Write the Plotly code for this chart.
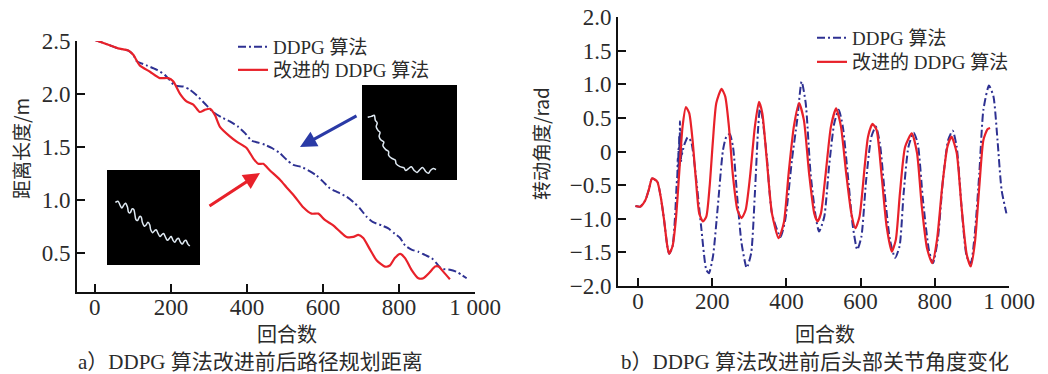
import plotly.graph_objects as go

# ---------------- data: panel a (path planning distance) ----------------
dist_improved_x = [0, 39, 61, 88, 101, 118, 145, 171, 193, 206, 224, 241, 259, 276, 289, 303, 316, 329,
                   355, 373, 399, 417, 430, 443, 460, 487, 504, 526, 548, 570, 588, 605, 627, 645, 662,
                   680, 693, 706, 724, 741, 763, 776, 789, 803, 816, 833, 851, 864, 882, 895, 904, 917, 934]
dist_improved_y = [2.51, 2.46, 2.43, 2.41, 2.37, 2.27, 2.21, 2.15, 2.15, 2.12, 2.00, 1.93, 1.90, 1.83, 1.85,
                   1.86, 1.80, 1.69, 1.60, 1.55, 1.49, 1.39, 1.34, 1.34, 1.28, 1.19, 1.12, 1.03, 0.93, 0.87,
                   0.87, 0.81, 0.76, 0.70, 0.65, 0.65, 0.67, 0.64, 0.53, 0.43, 0.37, 0.38, 0.45, 0.49, 0.45,
                   0.34, 0.26, 0.26, 0.32, 0.37, 0.37, 0.32, 0.25]
dist_ddpg_x = [0, 39, 61, 88, 101, 110, 136, 162, 184, 197, 210, 232, 250, 267, 289, 311, 333, 355, 377,
               395, 412, 430, 447, 465, 487, 504, 522, 544, 566, 583, 601, 618, 640, 662, 680, 697, 715,
               732, 754, 772, 789, 803, 816, 833, 851, 868, 886, 899, 912, 934, 952, 965, 978]
dist_ddpg_y = [2.51, 2.46, 2.43, 2.41, 2.37, 2.31, 2.27, 2.23, 2.18, 2.13, 2.08, 2.07, 2.04, 1.99, 1.91,
               1.83, 1.78, 1.74, 1.69, 1.63, 1.56, 1.54, 1.52, 1.49, 1.44, 1.38, 1.33, 1.31, 1.27, 1.23,
               1.17, 1.11, 1.07, 1.03, 0.98, 0.92, 0.84, 0.79, 0.76, 0.73, 0.68, 0.64, 0.57, 0.53, 0.51,
               0.48, 0.45, 0.40, 0.35, 0.34, 0.32, 0.29, 0.26]

# ---------------- data: panel b (head joint angle) ----------------
ang_improved_x = [-7, 6, 20, 29, 38, 52, 61, 70, 79, 84, 93, 102, 111, 120, 129, 138, 147, 156, 165, 175,
                  184, 193, 202, 211, 225, 235, 245, 256, 268, 279, 290, 302, 315, 326, 335, 347, 361, 379,
                  393, 406, 420, 434, 447, 461, 475, 484, 493, 506, 520, 534, 547, 561, 575, 586, 597, 611,
                  620, 632, 643, 656, 670, 684, 695, 706, 720, 738, 752, 765, 779, 793, 806, 820, 834, 845,
                  859, 872, 886, 897, 908, 920, 931, 942, 949]
ang_improved_y = [-0.81, -0.82, -0.72, -0.57, -0.40, -0.45, -0.67, -1.01, -1.41, -1.52, -1.41, -1.01, -0.32,
                  0.37, 0.66, 0.57, 0.17, -0.42, -0.92, -1.04, -0.97, -0.52, 0.17, 0.72, 0.93, 0.82, 0.37,
                  -0.37, -0.87, -0.99, -0.87, -0.37, 0.37, 0.74, 0.57, -0.12, -0.92, -1.29, -1.06, -0.32,
                  0.37, 0.72, 0.47, -0.32, -0.92, -1.04, -0.92, -0.32, 0.37, 0.64, 0.37, -0.32, -0.92,
                  -1.14, -0.97, -0.22, 0.22, 0.41, 0.32, -0.32, -1.11, -1.49, -1.31, -0.62, 0.07, 0.27,
                  -0.02, -0.82, -1.44, -1.66, -1.31, -0.52, 0.07, 0.22, -0.02, -0.82, -1.53, -1.71, -1.36,
                  -0.52, 0.17, 0.33, 0.35]
ang_ddpg_x = [-7, 6, 20, 29, 38, 52, 61, 70, 79, 84, 93, 100, 104, 106, 107, 108, 109, 110, 111, 112, 113,
              114, 115, 116, 117, 118, 120, 126, 134, 143, 156, 170, 184, 191, 202, 215, 229, 238, 247, 256,
              268, 279, 293, 305, 315, 324, 329, 335, 347, 361, 384, 397, 415, 429, 441, 452, 465, 479, 488,
              502, 515, 529, 541, 552, 565, 579, 591, 602, 615, 629, 641, 652, 665, 679, 693, 705, 716, 729,
              743, 754, 768, 784, 795, 808, 822, 836, 848, 859, 872, 886, 897, 908, 920, 931, 946, 958, 969,
              980, 993]
ang_ddpg_y = [-0.81, -0.82, -0.72, -0.57, -0.40, -0.45, -0.67, -1.01, -1.41, -1.52, -1.41, -0.95, -0.50,
              -0.35, -0.10, -0.45, 0.05, -0.30, 0.25, -0.20, 0.45, -0.05, 0.30, -0.15, 0.10, -0.05, 0.00,
              0.12, 0.21, 0.15, -0.37, -1.11, -1.76, -1.81, -1.56, -0.82, 0.02, 0.22, 0.26, 0.07, -0.72,
              -1.36, -1.73, -1.51, -0.62, 0.37, 0.67, 0.51, -0.07, -0.92, -1.27, -1.01, -0.12, 0.47, 1.04,
              0.72, -0.32, -0.97, -1.19, -0.97, -0.22, 0.42, 0.62, 0.37, -0.32, -1.11, -1.46, -1.27, -0.42,
              0.22, 0.37, 0.12, -0.62, -1.31, -1.58, -1.41, -0.62, 0.07, 0.28, 0.12, -0.72, -1.46, -1.66,
              -1.31, -0.42, 0.17, 0.31, 0.07, -0.82, -1.56, -1.66, -1.21, -0.32, 0.62, 0.98, 0.82, 0.17,
              -0.57, -0.92]

# ---------------- inset paths (trajectory snapshots, fractions of the inset box) ----------------
inset_improved_x = [0.09, 0.12, 0.14, 0.16, 0.18, 0.20, 0.22, 0.23, 0.25, 0.27, 0.29, 0.30, 0.31, 0.33,
                    0.35, 0.37, 0.38, 0.40, 0.42, 0.44, 0.46, 0.47, 0.49, 0.51, 0.53, 0.55, 0.57, 0.59,
                    0.61, 0.63, 0.65, 0.67, 0.69, 0.71, 0.73, 0.75, 0.77, 0.79, 0.81, 0.83, 0.85, 0.87, 0.89]
inset_improved_y = [0.66, 0.67, 0.63, 0.60, 0.63, 0.65, 0.61, 0.56, 0.55, 0.59, 0.58, 0.53, 0.48, 0.47,
                    0.51, 0.50, 0.45, 0.41, 0.42, 0.45, 0.42, 0.37, 0.34, 0.36, 0.37, 0.33, 0.30, 0.32,
                    0.33, 0.29, 0.26, 0.28, 0.30, 0.26, 0.24, 0.27, 0.28, 0.24, 0.22, 0.25, 0.26, 0.22, 0.20]
inset_ddpg_x = [0.06, 0.10, 0.13, 0.14, 0.16, 0.15, 0.17, 0.19, 0.18, 0.20, 0.23, 0.22, 0.25, 0.28, 0.28,
                0.31, 0.35, 0.36, 0.40, 0.44, 0.46, 0.49, 0.52, 0.55, 0.58, 0.61, 0.64, 0.67, 0.70, 0.72,
                0.75, 0.78]
inset_ddpg_y = [0.66, 0.67, 0.68, 0.63, 0.60, 0.56, 0.52, 0.50, 0.46, 0.42, 0.40, 0.36, 0.32, 0.30, 0.26,
                0.23, 0.21, 0.17, 0.14, 0.13, 0.10, 0.12, 0.14, 0.10, 0.08, 0.11, 0.13, 0.09, 0.07, 0.10,
                0.12, 0.11]

# ---------------- labels ----------------
x_tickvals = [0, 200, 400, 600, 800, 1000]
x_ticktext = ["0", "200", "400", "600", "800", "1 000"]
a_tickvals = [0.5, 1.0, 1.5, 2.0, 2.5]
a_ticktext = ["0.5", "1.0", "1.5", "2.0", "2.5"]
b_tickvals = [-2.0, -1.5, -1.0, -0.5, 0, 0.5, 1.0, 1.5, 2.0]
b_ticktext = ["\u22122.0", "\u22121.5", "\u22121.0", "\u22120.5", "0", "0.5", "1.0", "1.5", "2.0"]
name_ddpg = "DDPG 算法"
name_improved = "改进的 DDPG 算法"

BLUE = "#2e3192"
RED = "#e8212a"
TXT = "#2b2b2b"
INK = "#111111"
SERIF = "Liberation Serif, Noto Sans CJK SC, serif"
W, H = 1048, 374
OFF = 8  # page body margin offset of the plot div
DASH = "8px,3px,2px,3px"
TICKLEN = 8

# axis boxes in screen pixels: left, top, right, bottom ; data ranges
A_BOX, A_XR, A_YR = (77, 41, 475, 292), (-47, 1000), (0.13, 2.5)
B_BOX, B_XR, B_YR = (618, 17, 1009, 286), (-54, 1000), (-2.0, 2.0)


def px2paper_x(p):
    return (p - OFF) / W


def px2paper_y(p):
    return 1 - (p - OFF) / H


fig = go.Figure()

# panel a
fig.add_trace(go.Scatter(x=dist_ddpg_x, y=dist_ddpg_y, name=name_ddpg, mode="lines",
                         line=dict(color=BLUE, width=2, dash=DASH, shape="spline", smoothing=0.6),
                         xaxis="x", yaxis="y", legend="legend"))
fig.add_trace(go.Scatter(x=dist_improved_x, y=dist_improved_y, name=name_improved, mode="lines",
                         line=dict(color=RED, width=2.2, shape="spline", smoothing=0.6),
                         xaxis="x", yaxis="y", legend="legend3"))
# panel b
fig.add_trace(go.Scatter(x=ang_ddpg_x, y=ang_ddpg_y, name=name_ddpg, mode="lines",
                         line=dict(color=BLUE, width=2, dash=DASH, shape="spline", smoothing=0.6),
                         xaxis="x2", yaxis="y2", legend="legend2"))
fig.add_trace(go.Scatter(x=ang_improved_x, y=ang_improved_y, name=name_improved, mode="lines",
                         line=dict(color=RED, width=2.2, shape="spline", smoothing=0.6),
                         xaxis="x2", yaxis="y2", legend="legend4"))

axis_common = dict(showline=True, linecolor=INK, linewidth=2, ticks="inside", ticklen=TICKLEN,
                   tickwidth=2, tickcolor=INK, showgrid=False, zeroline=False, automargin=False,
                   ticklabeloverflow="allow", layer="above traces",
                   tickfont=dict(family=SERIF, size=23, color=TXT))


def legend_at(text_left_px, row_center_px):
    return dict(x=px2paper_x(text_left_px - 42), y=px2paper_y(row_center_px - 18),
                xanchor="left", yanchor="top", bgcolor="rgba(0,0,0,0)", itemwidth=30,
                borderwidth=0, font=dict(family=SERIF, size=19, color=TXT))


fig.update_layout(
    template="none",
    width=W, height=H, margin=dict(l=0, r=0, t=0, b=0, autoexpand=False),
    paper_bgcolor="white", plot_bgcolor="white",
    xaxis=dict(domain=[px2paper_x(A_BOX[0]), px2paper_x(A_BOX[2])], range=list(A_XR), anchor="y",
               tickvals=x_tickvals, ticktext=x_ticktext, ticklabelstandoff=-7, **axis_common),
    yaxis=dict(domain=[px2paper_y(A_BOX[3]), px2paper_y(A_BOX[1])], range=list(A_YR), anchor="x",
               tickvals=a_tickvals, ticktext=a_ticktext, **axis_common),
    xaxis2=dict(domain=[px2paper_x(B_BOX[0]), px2paper_x(B_BOX[2])], range=list(B_XR), anchor="y2",
                tickvals=x_tickvals, ticktext=x_ticktext, ticklabelstandoff=-7, **axis_common),
    yaxis2=dict(domain=[px2paper_y(B_BOX[3]), px2paper_y(B_BOX[1])], range=list(B_YR), anchor="x2",
                tickvals=b_tickvals, ticktext=b_ticktext, **axis_common),
    legend=legend_at(275, 46),
    legend3=legend_at(275, 69),
    legend2=legend_at(854, 37),
    legend4=legend_at(854, 61),
    showlegend=True,
)


# ---- insets: black boxes with the trajectory snapshots (smooth paths) ----
def inset_path(xs, ys, box):
    x0, y0, x1, y1 = box  # screen px: left, top, right, bottom
    pts = [(px2paper_x(x0 + fx * (x1 - x0)), px2paper_y(y1 - fy * (y1 - y0))) for fx, fy in zip(xs, ys)]
    d = "M{:.5f},{:.5f}".format(*pts[0])
    for i in range(len(pts) - 1):
        p0 = pts[max(i - 1, 0)]
        p1 = pts[i]
        p2 = pts[i + 1]
        p3 = pts[min(i + 2, len(pts) - 1)]
        c1 = (p1[0] + (p2[0] - p0[0]) / 6, p1[1] + (p2[1] - p0[1]) / 6)
        c2 = (p2[0] - (p3[0] - p1[0]) / 6, p2[1] - (p3[1] - p1[1]) / 6)
        d += " C{:.5f},{:.5f} {:.5f},{:.5f} {:.5f},{:.5f}".format(*c1, *c2, *p2)
    return d


insets = [((107, 170, 200, 265), inset_improved_x, inset_improved_y),
          ((362, 85, 457, 180), inset_ddpg_x, inset_ddpg_y)]
for box, xs, ys in insets:
    fig.add_shape(type="rect", xref="paper", yref="paper",
                  x0=px2paper_x(box[0]), x1=px2paper_x(box[2]),
                  y0=px2paper_y(box[3]), y1=px2paper_y(box[1]),
                  fillcolor="black", line=dict(width=0), layer="above")
    fig.add_shape(type="path", xref="paper", yref="paper", path=inset_path(xs, ys, box),
                  line=dict(color="#dfe9f2", width=1.5), layer="above")

# arrows pointing from insets to curves
fig.add_annotation(x=px2paper_x(300), y=px2paper_y(147), xref="paper", yref="paper",
                   ax=58, ay=-32, showarrow=True, arrowhead=2, arrowsize=1.1, arrowwidth=3,
                   arrowcolor="#2a3aa6", text="")
fig.add_annotation(x=px2paper_x(260), y=px2paper_y(173), xref="paper", yref="paper",
                   ax=-52, ay=34, showarrow=True, arrowhead=2, arrowsize=1.1, arrowwidth=3,
                   arrowcolor="#e8212a", text="")

cjk = dict(family="Noto Sans CJK SC, Liberation Serif, serif", size=19, color=TXT)
texts = [
    ("距离长度/m", 21, 149, -90, cjk),
    ("转动角度/rad", 540, 144, -90, cjk),
    ("回合数", 287, 333, 0, dict(cjk, size=20)),
    ("回合数", 825, 333, 0, dict(cjk, size=20)),
    ("a）DDPG 算法改进前后路径规划距离", 250, 362, 0, dict(family=SERIF, size=21, color=TXT)),
    ("b）DDPG 算法改进前后头部关节角度变化", 815, 362, 0, dict(family=SERIF, size=21, color=TXT)),
]
for t, xp, yp, ang, f in texts:
    fig.add_annotation(text=t, x=px2paper_x(xp), y=px2paper_y(yp), xref="paper", yref="paper",
                       showarrow=False, textangle=ang, font=f, xanchor="center", yanchor="middle")

fig.write_html("out.html")
